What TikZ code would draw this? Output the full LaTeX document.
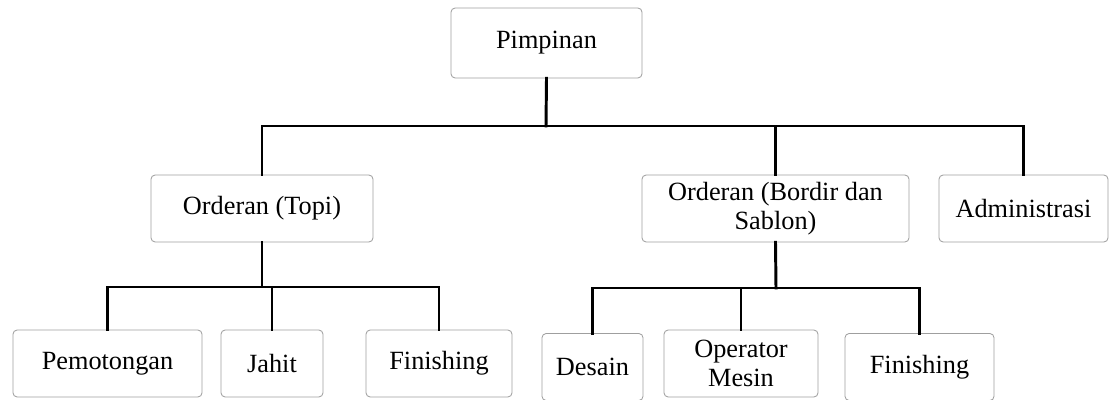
\documentclass[tikz,border=0pt]{standalone}
\usepackage{fontspec}
\setmainfont{Liberation Serif}
\usepackage{tikz}
\usetikzlibrary{positioning,calc}

\begin{document}
\begin{tikzpicture}[
  x=0.025cm, y=-0.025cm,
  box/.style={draw=gray!75, line width=0.6pt, rounded corners=3pt,
    minimum height=1.675cm, inner sep=1pt, align=center,
    font=\fontsize{18.7}{20.5}\selectfont},
  conn/.style={line width=2.1pt, line cap=rect}
]
  \useasboundingbox (0,0) rectangle (1117,400);

  % top level
  \node[box, minimum width=4.775cm, minimum height=1.75cm] (pim) at (546.5, 43) {Pimpinan};

  % second level
  \node[box, minimum width=5.55cm] (topi) at (262, 208.5) {Orderan (Topi)};
  \node[box, minimum width=6.675cm] (bordir) at (775.5, 208.5) {Orderan (Bordir dan\\Sablon)};
  \node[box, minimum width=4.225cm] (admin) at (1023.5, 208.5) {Administrasi};

  % Orderan (Topi) staff
  \node[box, minimum width=4.725cm] (potong) at (107.5, 363.5) {Pemotongan};
  \node[box, minimum width=2.55cm] (jahit) at (272, 363.5) {Jahit};
  \node[box, minimum width=3.65cm] (finA) at (439, 363.5) {Finishing};

  % Orderan (Bordir dan Sablon) staff
  \node[box, minimum width=2.525cm] (desain) at (592.5, 367) {Desain};
  \node[box, minimum width=3.85cm] (operator) at (741, 363.5) {Operator\\Mesin};
  \node[box, minimum width=3.725cm] (finB) at (919.5, 367) {Finishing};

  % connectors
  \coordinate (busA) at (546, 126);
  \coordinate (busB) at (262, 287);
  \coordinate (busC) at (776, 288);
  \draw[conn] (pim.south) -- (busA);
  \draw[conn] (topi.north) |- (busA) -| (admin.north);
  \draw[conn] (bordir.north) -- (bordir.north |- busA);

  \draw[conn] (topi.south) -- (busB);
  \draw[conn] (potong.north) |- (busB) -| (finA.north);
  \draw[conn] (jahit.north) -- (jahit.north |- busB);

  \draw[conn] (bordir.south) -- (busC);
  \draw[conn] (desain.north) |- (busC) -| (finB.north);
  \draw[conn] (operator.north) -- (operator.north |- busC);
\end{tikzpicture}
\end{document}
